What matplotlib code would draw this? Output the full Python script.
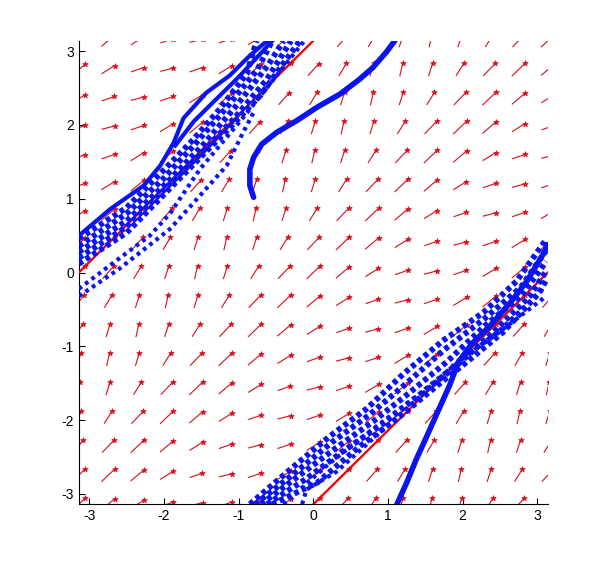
import numpy as np
import matplotlib.pyplot as plt

plt.rcParams['font.family'] = ['Liberation Sans', 'DejaVu Sans']
plt.rcParams['axes.unicode_minus'] = False

# arrow components (data units), indexed by k = (row - col) mod 16,
# i.e. by the phase difference y - x on the 17x17 grid
U_BY_PHASE = [0.18, 0.16, 0.105, 0.055, 0.04, 0.055, 0.10, 0.145,
              0.175, 0.18, 0.18, 0.175, 0.175, 0.17, 0.175, 0.18]
V_BY_PHASE = [0.175, 0.17, 0.17, 0.175, 0.18, 0.175, 0.17, 0.165,
              0.17, 0.15, 0.11, 0.06, 0.045, 0.06, 0.11, 0.155]

# red phase-locked lines
red_lo_x = [0.0, 3.1416]
red_lo_y = [-3.1416, 0.0]
red_up_x = [-3.1416, 0.0]
red_up_y = [0.0, 3.1416]

# smooth trajectory (start at -0.8, 1.0, wraps through top/bottom)
traj_a = [(-0.80, 1.02), (-0.85, 1.18), (-0.85, 1.40), (-0.80, 1.56), (-0.69, 1.74),
          (-0.49, 1.90), (-0.22, 2.06), (0.05, 2.24), (0.36, 2.42), (0.62, 2.62),
          (0.80, 2.78), (0.98, 2.99), (1.09, 3.14)]
traj_b = [(1.12, -3.14), (1.25, -2.85), (1.38, -2.53), (1.52, -2.22), (1.67, -1.88),
          (1.83, -1.52), (1.94, -1.22), (2.12, -0.97), (2.37, -0.72), (2.63, -0.42),
          (2.86, -0.12), (3.08, 0.25), (3.14, 0.38)]
traj_c = [(-3.14, 0.50), (-2.72, 0.86), (-2.27, 1.18), (-2.05, 1.45), (-1.87, 1.76),
          (-1.74, 2.09), (-1.43, 2.44), (-1.12, 2.67), (-0.85, 2.94), (-0.62, 3.14)]
traj_d = [(-1.85, 1.72), (-1.60, 2.05), (-1.30, 2.35), (-1.00, 2.65), (-0.75, 2.92),
          (-0.55, 3.14)]

# noisy trajectories, lower right band (dense part)
lr_1 = [(-0.85, -3.14), (-0.31, -2.67), (0.22, -2.22), (0.71, -1.85), (1.20, -1.38),
        (1.74, -0.92), (2.28, -0.54), (2.72, -0.12), (3.10, 0.42)]
lr_2 = [(-0.78, -3.14), (-0.25, -2.72), (0.25, -2.30), (0.75, -1.93), (1.25, -1.50),
        (1.75, -1.05), (2.30, -0.62), (2.78, -0.20), (3.12, 0.30)]
lr_3 = [(-0.70, -3.14), (-0.20, -2.76), (0.30, -2.38), (0.80, -2.02), (1.30, -1.62),
        (1.80, -1.20), (2.30, -0.72), (2.80, -0.30), (3.12, 0.15)]
lr_4 = [(-0.62, -3.14), (-0.10, -2.80), (0.40, -2.42), (0.95, -2.04), (1.45, -1.64),
        (1.90, -1.28), (2.40, -0.82), (2.90, -0.32), (3.12, 0.02)]
lr_5 = [(-0.55, -3.14), (0.05, -2.85), (0.63, -2.35), (1.16, -1.95), (1.65, -1.54),
        (2.01, -1.25), (2.54, -0.81), (3.03, -0.27), (3.12, -0.10)]
# separate dotted trajectories, lower right
lr_6 = [(-0.15, -3.14), (-0.09, -2.94), (0.31, -2.70), (0.89, -2.17), (1.45, -1.66),
        (1.96, -1.18), (2.37, -0.90), (2.72, -0.63), (3.12, -0.32)]
lr_7 = [(-0.40, -3.14), (0.20, -2.60), (0.80, -2.12), (1.40, -1.66), (1.96, -1.20),
        (2.50, -0.78), (3.10, -0.20)]

# noisy trajectories, upper left band (dense part)
ul_1 = [(-3.14, 0.46), (-2.50, 0.88), (-2.05, 1.34), (-1.61, 1.80), (-1.25, 2.22),
        (-0.89, 2.70), (-0.76, 3.14)]
ul_2 = [(-3.14, 0.36), (-2.50, 0.80), (-2.00, 1.28), (-1.55, 1.78), (-1.15, 2.25),
        (-0.75, 2.75), (-0.55, 3.14)]
ul_3 = [(-3.14, 0.28), (-2.50, 0.70), (-1.96, 1.22), (-1.45, 1.76), (-1.00, 2.30),
        (-0.60, 2.82), (-0.40, 3.14)]
ul_4 = [(-3.14, 0.20), (-2.50, 0.62), (-1.96, 1.16), (-1.50, 1.62), (-1.05, 2.10),
        (-0.62, 2.62), (-0.30, 3.14)]
ul_5 = [(-3.14, 0.12), (-2.50, 0.54), (-1.96, 1.10), (-1.61, 1.46), (-1.16, 1.92),
        (-0.71, 2.40), (-0.36, 2.89), (-0.18, 3.14)]
# separate dotted trajectories, upper left
ul_6 = [(-3.14, -0.22), (-2.72, 0.10), (-2.19, 0.50), (-1.92, 0.80), (-1.52, 1.40),
        (-0.94, 2.10), (-0.50, 2.66), (-0.12, 3.14)]
ul_7 = [(-3.14, -0.32), (-2.60, 0.05), (-1.92, 0.59), (-1.52, 1.04), (-1.16, 1.45),
        (-0.94, 1.90), (-0.80, 2.17)]

BLUE = '#0a14f0'
RED = '#d8101c'

fig = plt.figure(figsize=(6.06, 5.66), dpi=100)
ax = fig.add_axes([0.130, 0.109, 0.774, 0.819])

n = len(U_BY_PHASE)
g = np.linspace(-np.pi, np.pi, n + 1)
X, Y = np.meshgrid(g, g)
idx = (np.arange(n + 1)[:, None] - np.arange(n + 1)[None, :]) % n
U = np.array(U_BY_PHASE)[idx]
V = np.array(V_BY_PHASE)[idx]
ax.quiver(X, Y, U, V, angles='xy', scale_units='xy', scale=1, pivot='middle',
          color=RED, width=0.0024, headwidth=0, headlength=0,
          headaxislength=0, zorder=2)
ax.scatter(X + U / 2, Y + V / 2, s=16, marker='*', color=RED, linewidths=0.6,
           edgecolors=RED, zorder=2)

ax.plot(red_lo_x, red_lo_y, color='#ee0000', lw=1.6, zorder=3)
ax.plot(red_up_x, red_up_y, color='#ee0000', lw=1.6, zorder=3)

for tr in [lr_1, lr_2, lr_3, lr_4, lr_5, ul_1, ul_2, ul_3, ul_4, ul_5]:
    xs, ys = zip(*tr)
    ax.plot(xs, ys, color=BLUE, lw=4.2, ls=(0, (0.8, 0.6)), zorder=4)
for tr in [lr_6, lr_7, ul_6, ul_7]:
    xs, ys = zip(*tr)
    ax.plot(xs, ys, color=BLUE, lw=3.0, ls=(0, (0.9, 1.0)), zorder=4)
for tr in [traj_a, traj_b]:
    xs, ys = zip(*tr)
    ax.plot(xs, ys, color=BLUE, lw=4.0, solid_capstyle='round', zorder=5)
for tr in [traj_c, traj_d]:
    xs, ys = zip(*tr)
    ax.plot(xs, ys, color=BLUE, lw=3.0, zorder=5)

ax.set_xlim(-np.pi, np.pi)
ax.set_ylim(-np.pi, np.pi)
ax.set_xticks([-3, -2, -1, 0, 1, 2, 3])
ax.set_yticks([-3, -2, -1, 0, 1, 2, 3])
ax.spines['top'].set_visible(False)
ax.spines['right'].set_visible(False)
ax.tick_params(direction='in', length=4, labelsize=10, top=False, right=False)

fig.savefig('out.png', dpi=100)
